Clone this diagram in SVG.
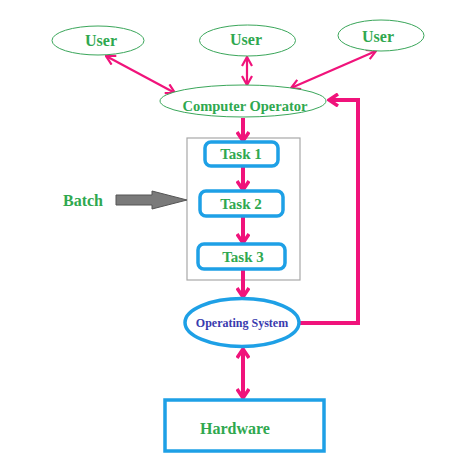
<svg xmlns="http://www.w3.org/2000/svg" width="474" height="464" viewBox="0 0 474 464">
<defs>
<style>
.t{font-family:"Liberation Serif","Times New Roman",serif;font-weight:bold;fill:#2fa84f;text-anchor:middle}
.ue{fill:#fff;stroke:#3aa65a;stroke-width:1}
.tk{fill:#fff;stroke:#1ea0e6;stroke-width:3.5}
.p1{stroke:#f0137b;stroke-width:2.2;fill:none}
.p2{stroke:#f0137b;stroke-width:4;fill:none}
</style>
<marker id="h1" viewBox="0 0 12 12" refX="11" refY="6" markerWidth="12" markerHeight="12" markerUnits="userSpaceOnUse" orient="auto-start-reverse">
<path d="M2,1 L11,6 L2,11" fill="none" stroke="#f0137b" stroke-width="2.2"/>
</marker>
<marker id="h2" viewBox="0 0 14 14" refX="12" refY="7" markerWidth="14" markerHeight="14" markerUnits="userSpaceOnUse" orient="auto-start-reverse">
<path d="M3,1 L12,7 L3,13" fill="none" stroke="#f0137b" stroke-width="3.5"/>
</marker>
</defs>
<rect width="474" height="464" fill="#fff"/>
<g id="batchbox"><rect x="187" y="138" width="113" height="142" fill="none" stroke="#a8a8a8" stroke-width="1.2"/></g>
<g id="connectors">
<line class="p1" x1="106" y1="56" x2="175" y2="93" marker-start="url(#h1)" marker-end="url(#h1)"/>
<line class="p1" x1="247" y1="57" x2="247" y2="85" marker-start="url(#h1)" marker-end="url(#h1)"/>
<line class="p1" x1="376" y1="51" x2="291" y2="88" marker-start="url(#h1)" marker-end="url(#h1)"/>
<line class="p2" x1="243" y1="118" x2="243" y2="141" marker-end="url(#h2)"/>
<line class="p2" x1="243" y1="167" x2="243" y2="190" marker-end="url(#h2)"/>
<line class="p2" x1="243" y1="217" x2="243" y2="243" marker-end="url(#h2)"/>
<line class="p2" x1="243" y1="270" x2="243" y2="297" marker-end="url(#h2)"/>
<line class="p2" x1="243" y1="349" x2="243" y2="398" marker-start="url(#h2)" marker-end="url(#h2)"/>
<polyline class="p2" points="299,323 358,323 358,100 329,100" marker-end="url(#h2)"/>
<polygon points="116,195 152,195 152,191 187,200 152,209 152,205 116,205" fill="#7a7a7a" stroke="#555" stroke-width="1"/>
</g>
<g id="user1"><ellipse class="ue" cx="98" cy="40.5" rx="46" ry="14.5"/><text class="t" x="101" y="46" font-size="16">User</text></g>
<g id="user2"><ellipse class="ue" cx="247.5" cy="40.5" rx="48" ry="15.5"/><text class="t" x="246" y="45" font-size="16">User</text></g>
<g id="user3"><ellipse class="ue" cx="381" cy="35.5" rx="43" ry="15.5"/><text class="t" x="378" y="42" font-size="16">User</text></g>
<g id="operator"><ellipse class="ue" cx="243" cy="101" rx="83" ry="16"/><text class="t" x="245" y="111" font-size="14.5">Computer Operator</text></g>
<g id="task1"><rect class="tk" x="205" y="142" width="73" height="24" rx="6"/><text class="t" x="241" y="159" font-size="15">Task 1</text></g>
<g id="task2"><rect class="tk" x="200" y="191" width="83" height="25" rx="6"/><text class="t" x="241" y="209" font-size="15">Task 2</text></g>
<g id="task3"><rect class="tk" x="198" y="244" width="87" height="25" rx="6"/><text class="t" x="243" y="262" font-size="15">Task 3</text></g>
<g id="batch"><text class="t" x="83" y="206" font-size="16">Batch</text></g>
<g id="os"><ellipse cx="242" cy="322.5" rx="57" ry="24" fill="#fff" stroke="#1ea0e6" stroke-width="3.5"/><text class="t" x="242" y="327" font-size="12" style="fill:#3a3aae">Operating System</text></g>
<g id="hardware"><rect x="165" y="400" width="159" height="51" fill="#fff" stroke="#1ea0e6" stroke-width="3.5"/><text class="t" x="235" y="434" font-size="16">Hardware</text></g>
</svg>
